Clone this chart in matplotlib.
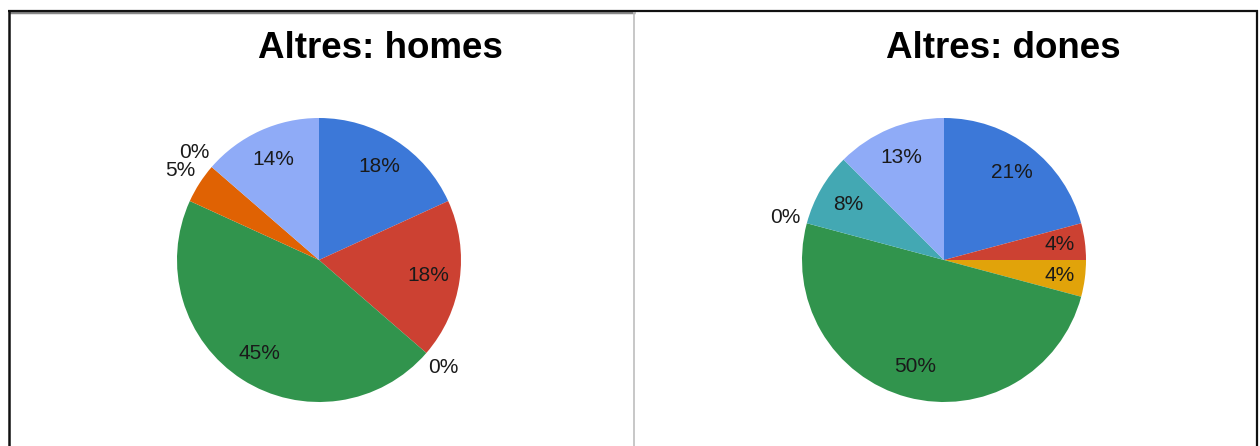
import numpy as np
import matplotlib
matplotlib.use('Agg')
import matplotlib.pyplot as plt
from matplotlib.lines import Line2D

plt.rcParams['font.family'] = ['Liberation Sans', 'DejaVu Sans']

# response counts per category, same order in both charts
categories = ['Cat 1', 'Cat 2', 'Cat 3', 'Cat 4', 'Cat 5', 'Cat 6', 'Cat 7']
homes = [4, 4, 0, 10, 1, 0, 3]
dones = [5, 1, 1, 12, 0, 2, 3]
titles = ['Altres: homes', 'Altres: dones']
colors = ['#3c78d8', '#cc4132', '#e1a30a', '#31944d', '#e06203', '#43a8b3', '#8fabf7']

W, H = 1260, 446
fig = plt.figure(figsize=(W / 100, H / 100), dpi=100)

R = 142  # pie radius in px
centers = [(319, 260), (944, 260)]
title_x = [380, 1003]
lim = 1.25


def draw_pie(values, cx, cy, title, tx):
    side = 2 * lim * R
    ax = fig.add_axes([(cx - side / 2) / W, (H - cy - side / 2) / H, side / W, side / H])
    ax.pie(values, colors=colors, startangle=90, counterclock=False, radius=1,
           wedgeprops=dict(linewidth=0))
    ax.set_xlim(-lim, lim)
    ax.set_ylim(-lim, lim)
    ax.set_aspect('equal')
    ax.axis('off')

    total = float(sum(values))
    cum = 0.0
    for v in values:
        pct = 100 * v / total
        mid = (cum + v / 2) / total * 2 * np.pi
        cum += v
        # slices too thin for text get their label outside the pie
        if pct < 4:
            r = 1.16
        elif pct < 6:
            r = 0.82 if total > 23 else 1.16
        else:
            r = 0.78
        x, y = r * np.sin(mid), r * np.cos(mid)
        ax.text(x, y, '%d%%' % int(pct + 0.5), ha='center', va='center',
                fontsize=15, color='#1a1a1a')

    fig.text(tx / W, 1 - 48 / H, title, ha='center', va='center',
             fontsize=26.5, fontweight='bold', color='black')


for vals, (cx, cy), t, tx in zip([homes, dones], centers, titles, title_x):
    draw_pie(vals, cx, cy, t, tx)

# frame around both panels and the divider between them
def px_line(x0, y0, x1, y1, color, lw):
    fig.add_artist(Line2D([x0 / W, x1 / W], [1 - y0 / H, 1 - y1 / H],
                          transform=fig.transFigure, color=color, linewidth=lw,
                          solid_capstyle='butt'))

px_line(9, 11.5, 635, 11.5, '#888888', 2.5)
px_line(8, 10.5, 1258, 10.5, '#111111', 1.6)
px_line(8.5, 10, 8.5, H, '#111111', 1.8)
px_line(1257, 10, 1257, H, '#111111', 1.6)
px_line(634, 12, 634, H, '#bdbdbd', 1.2)

fig.savefig('out.png', dpi=100)
